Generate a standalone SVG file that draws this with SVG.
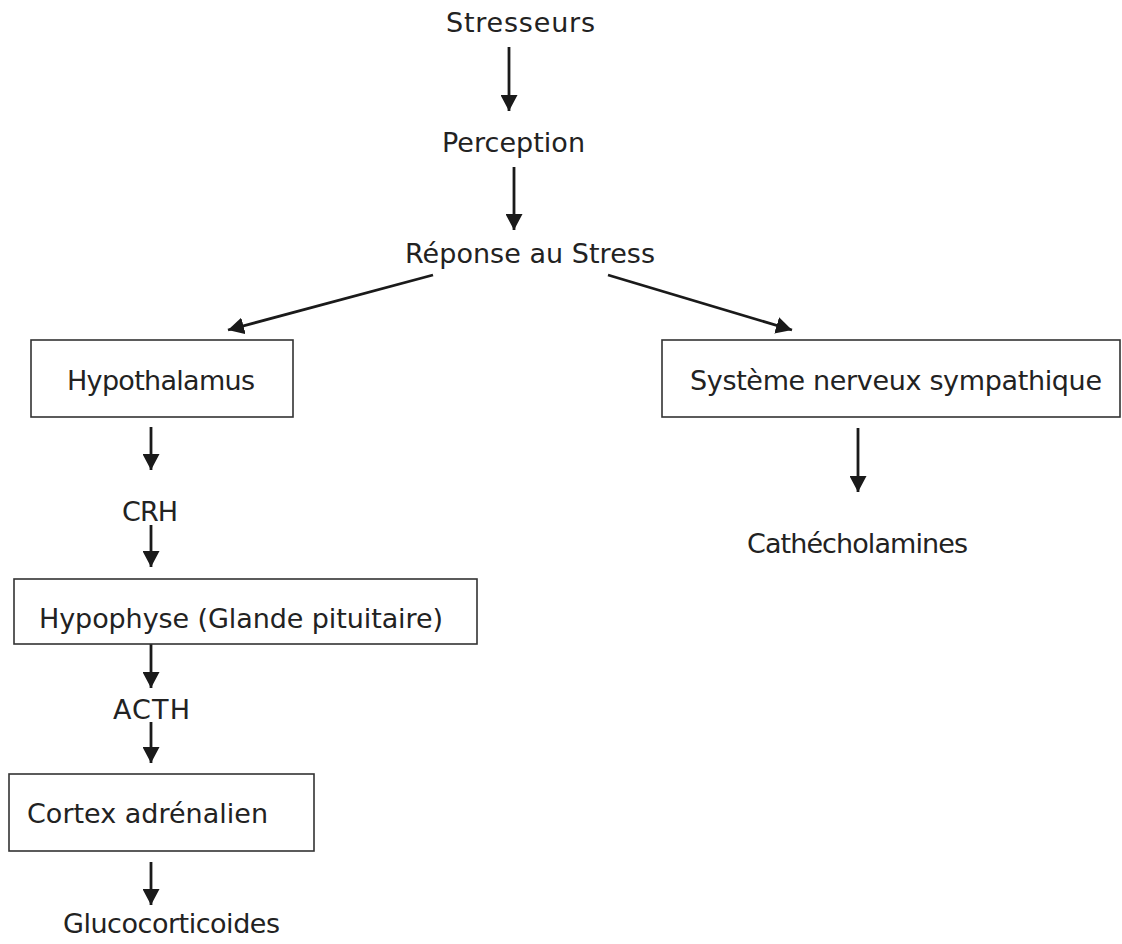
<svg xmlns="http://www.w3.org/2000/svg" width="1122" height="944" viewBox="0 0 1122 944">
<style>
text{font-family:"DejaVu Sans","Liberation Sans",sans-serif;font-size:27px;fill:#222;text-anchor:middle}
.box{fill:#fff;stroke:#333;stroke-width:1.6}
.arr{stroke:#1a1a1a;stroke-width:2.8;fill:none;marker-end:url(#ah)}
</style>
<defs>
<marker id="ah" markerUnits="userSpaceOnUse" markerWidth="17" markerHeight="17" refX="16" refY="8.5" orient="auto" viewBox="0 0 17 17">
<path d="M0,0 L16,8.5 L0,17 z" fill="#1a1a1a"/>
</marker>
</defs>
<rect width="1122" height="944" fill="#fff"/>
<g id="connectors">
<line class="arr" x1="509" y1="47" x2="509" y2="111"/>
<line class="arr" x1="514" y1="167" x2="514" y2="230"/>
<line class="arr" x1="433" y1="275" x2="228" y2="330"/>
<line class="arr" x1="608" y1="275" x2="792" y2="330"/>
<line class="arr" x1="151" y1="427" x2="151" y2="470"/>
<line class="arr" x1="151" y1="525" x2="151" y2="567"/>
<line class="arr" x1="151" y1="644" x2="151" y2="688"/>
<line class="arr" x1="151" y1="722" x2="151" y2="763"/>
<line class="arr" x1="151" y1="862" x2="151" y2="905"/>
<line class="arr" x1="858" y1="428" x2="858" y2="492"/>
</g>
<g id="stresseurs"><text x="520.5" y="32" textLength="149">Stresseurs</text></g>
<g id="perception"><text x="513.5" y="152" textLength="143">Perception</text></g>
<g id="reponse"><text x="530" y="263" textLength="250">Réponse au Stress</text></g>
<g id="hypothalamus"><rect class="box" x="31" y="340" width="262" height="77"/><text x="161" y="390" textLength="188">Hypothalamus</text></g>
<g id="sns"><rect class="box" x="662" y="340" width="458" height="77"/><text x="896" y="390" textLength="412">Système nerveux sympathique</text></g>
<g id="crh"><text x="150" y="521" textLength="56">CRH</text></g>
<g id="hypophyse"><rect class="box" x="14" y="579" width="463" height="65"/><text x="241" y="628" textLength="404">Hypophyse (Glande pituitaire)</text></g>
<g id="acth"><text x="151.5" y="719" textLength="77">ACTH</text></g>
<g id="cortex"><rect class="box" x="9" y="774" width="305" height="77"/><text x="147.5" y="823" textLength="241">Cortex adrénalien</text></g>
<g id="glucocorticoides"><text x="171.5" y="933" textLength="217">Glucocorticoides</text></g>
<g id="catecholamines"><text x="857.5" y="553" textLength="221">Cathécholamines</text></g>
</svg>
